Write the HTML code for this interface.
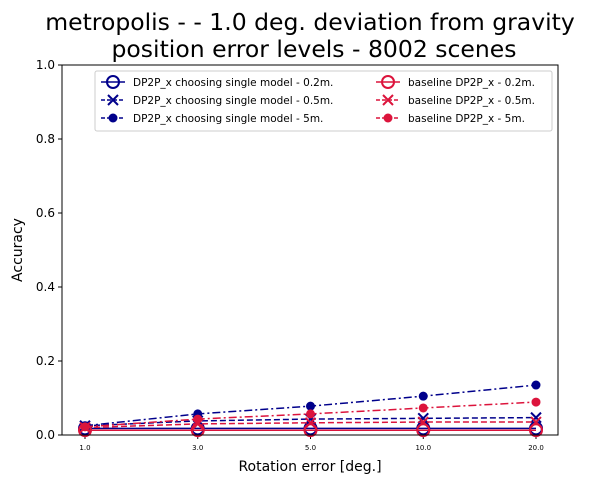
<!DOCTYPE html>
<html><head><meta charset="utf-8"><style>
body{margin:0;background:#fff;}
svg text{font-family:"DejaVu Sans","Liberation Sans",sans-serif;}
</style></head><body>
<svg id="chart" width="594" height="484" xmlns="http://www.w3.org/2000/svg">
<text x="310" y="30" text-anchor="middle" font-size="23.5">metropolis -  - 1.0 deg. deviation from gravity</text>
<text x="314" y="57" text-anchor="middle" font-size="23.5">position error levels - 8002 scenes</text>
<g id="axes"></g>
<g id="series"></g>
<rect x="62" y="65" width="496" height="370" fill="none" stroke="#000" stroke-width="1"/>
<text x="310" y="471" text-anchor="middle" font-size="14">Rotation error [deg.]</text>
<text transform="translate(22,250) rotate(-90)" text-anchor="middle" font-size="14">Accuracy</text>
<g>
<rect x="95" y="71" width="457" height="60" rx="2" fill="#fff" stroke="#ccc"/>
<g id="legend"></g>
</g>
</svg>
<script>
const categories=["1.0","3.0","5.0","10.0","20.0"];
const yTicks=[0,0.2,0.4,0.6,0.8,1.0];
const yTickLabels=["0.0","0.2","0.4","0.6","0.8","1.0"];
const dpx02=[0.018,0.018,0.018,0.018,0.018];
const dpx05=[0.025,0.038,0.043,0.045,0.047];
const dpx5=[0.025,0.057,0.078,0.105,0.135];
const base02=[0.013,0.013,0.013,0.013,0.013];
const base05=[0.020,0.030,0.033,0.035,0.035];
const base5=[0.022,0.043,0.057,0.073,0.089];
const seriesNames=["DP2P_x choosing single model - 0.2m.","DP2P_x choosing single model - 0.5m.","DP2P_x choosing single model - 5m.","baseline DP2P_x - 0.2m.","baseline DP2P_x - 0.5m.","baseline DP2P_x - 5m."];
const NS="http://www.w3.org/2000/svg";
const xs=i=>85+i*(536-85)/(categories.length-1);
const ys=v=>435-v*370;
function mk(t,a,p){const e=document.createElementNS(NS,t);for(const k in a)e.setAttribute(k,a[k]);p.appendChild(e);return e;}
const ax=document.getElementById('axes');
categories.forEach((c,i)=>{
 const t=mk('line',{x1:xs(i),x2:xs(i),y1:435,y2:439,stroke:'#000'},ax);
 
 
 const l=mk('text',{x:xs(i),y:450,'text-anchor':'middle','font-size':7},ax);l.textContent=c;
 
 
});
yTicks.forEach((v,i)=>{
 const t=mk('line',{x1:58,x2:62,y1:ys(v),y2:ys(v),stroke:'#000'},ax);
 
 
 const l=mk('text',{x:55,y:ys(v)+4,'text-anchor':'end','font-size':12},ax);l.textContent=yTickLabels[i];
 
 
});
const B='#00008b',R='#dc143c';
const specs=[
 {d:dpx02,c:B,dash:'',m:'o'},{d:dpx05,c:B,dash:'6,3',m:'x'},{d:dpx5,c:B,dash:'8,3,2,3',m:'d'},
 {d:base02,c:R,dash:'',m:'o'},{d:base05,c:R,dash:'6,3',m:'x'},{d:base5,c:R,dash:'8,3,2,3',m:'d'}];
function marker(m,x,y,c,g){
 if(m==='o')return mk('circle',{cx:x,cy:y,r:6,fill:'none',stroke:c,'stroke-width':2},g);
 if(m==='d')return mk('circle',{cx:x,cy:y,r:4.5,fill:c},g);
 return mk('path',{d:`M${x-5},${y-5}L${x+5},${y+5}M${x-5},${y+5}L${x+5},${y-5}`,stroke:c,'stroke-width':2},g);
}
const sg=document.getElementById('series');
specs.forEach((s,k)=>{
 const g=mk('g',{},sg);
 
 
 const pl=mk('polyline',{points:s.d.map((v,i)=>xs(i)+','+ys(v)).join(' '),fill:'none',stroke:s.c,'stroke-width':1.5,'stroke-dasharray':s.dash},g);
 
 
 s.d.forEach((v,i)=>{const m=marker(s.m,xs(i),ys(v),s.c,g);
  
  });
});
const lg=document.getElementById('legend');
specs.forEach((s,k)=>{
 const col=k<3?0:1,row=k%3;
 const x0=col?376:101,y0=82+row*18;
 const g=mk('g',{},lg);
 
 
 mk('line',{x1:x0,x2:x0+24,y1:y0,y2:y0,stroke:s.c,'stroke-width':1.5,'stroke-dasharray':s.dash?'4,2':''},g);
 marker(s.m,x0+12,y0,s.c,g);
 const t=mk('text',{x:x0+32,y:y0+4,'font-size':10.5},g);t.textContent=seriesNames[k];
});
</script>
</body></html>
